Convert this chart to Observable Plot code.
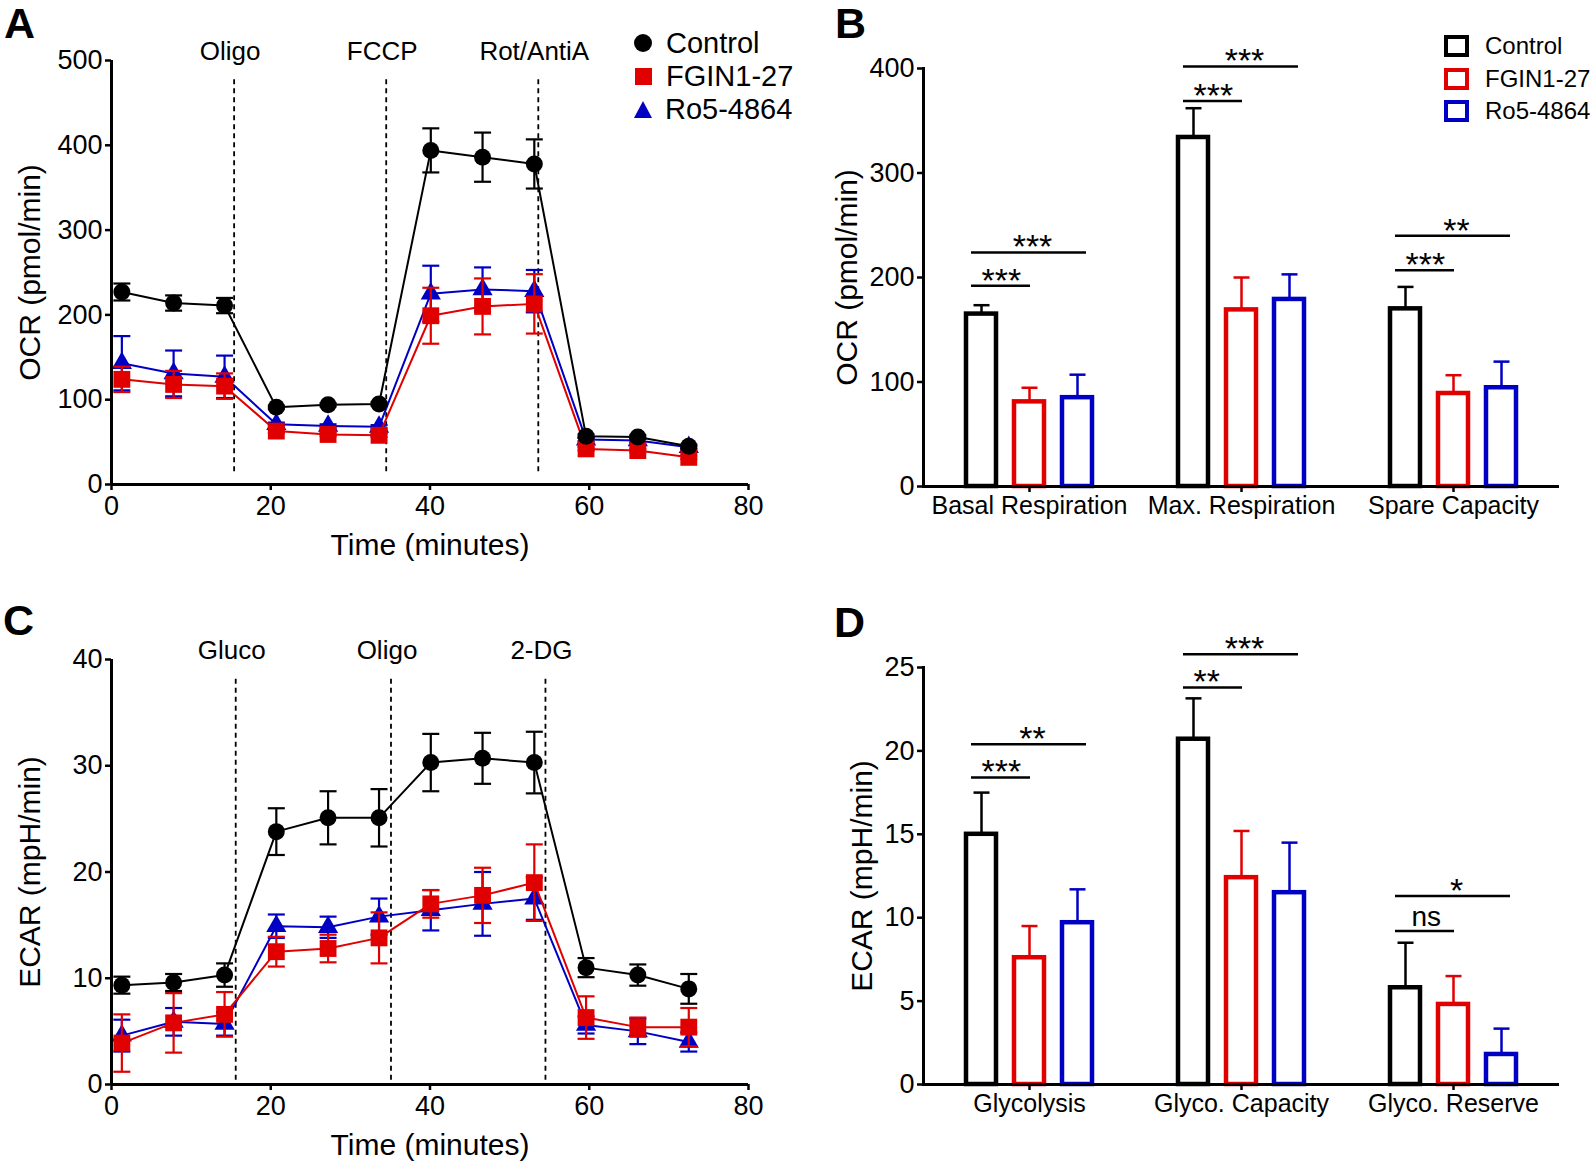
<!DOCTYPE html>
<html>
<head>
<meta charset="utf-8">
<script src="https://cdn.jsdelivr.net/npm/d3@7"></script>
<script src="https://cdn.jsdelivr.net/npm/@observablehq/plot@0.6"></script>
<style>
  body { margin: 0; background: #fff; font-family: "Liberation Sans", Arial, sans-serif; }
  #fig { position: relative; width: 1594px; height: 1165px; overflow: hidden; background: #fff; }
  .panel { position: absolute; }
  .letter { position: absolute; font-weight: bold; font-size: 43px; line-height: 1; color: #000; }
  .legend { position: absolute; color: #000; }
  .legend .row { position: absolute; left: 0; display: flex; align-items: center; white-space: nowrap; }
  svg g[aria-label="x-axis label"] text, svg g[aria-label="y-axis label"] text { font-size: 30px; }
</style>
</head>
<body>
<div id="fig">
  <div class="panel" id="pA" style="left:0px;top:0px"></div>
  <div class="panel" id="pB" style="left:800px;top:0px"></div>
  <div class="panel" id="pC" style="left:0px;top:590px"></div>
  <div class="panel" id="pD" style="left:800px;top:590px"></div>
  <div class="letter" style="left:4px;top:2px">A</div>
  <div class="letter" style="left:835px;top:2px">B</div>
  <div class="letter" style="left:3px;top:599px">C</div>
  <div class="letter" style="left:834px;top:601px">D</div>
  <div class="legend" id="legA" style="left:634px;top:26px;font-size:29px"></div>
  <div class="legend" id="legB" style="left:1444px;top:30px;font-size:24px"></div>
</div>
<script>
// ---------- shared ----------
const groups = ["Control", "FGIN1-27", "Ro5-4864"];
const groupColors = ["#000000", "#e00000", "#0000c4"];
const groupSymbols = ["circle", "square", "triangle"];

const measureTimes = [1.3, 7.8, 14.2, 20.7, 27.2, 33.6, 40.1, 46.6, 53.1, 59.6, 66.1, 72.5];
const timeTicks = [0, 20, 40, 60, 80];

// ---------- Panel A: OCR time course ----------
const ocrControl    = [227, 214, 211, 91, 94, 95, 394, 386, 378, 57, 56, 45];
const ocrControlErr = [10, 9, 9, 2, 2, 2, 26, 29, 29, 2, 2, 2];
const ocrFGIN       = [124, 118, 116, 63, 59, 58, 199, 210, 213, 42, 40, 32];
const ocrFGINErr    = [15, 16, 15, 2, 2, 2, 33, 33, 35, 2, 2, 2];
const ocrRo5        = [143, 131, 127, 71, 69, 68, 225, 230, 228, 53, 52, 44];
const ocrRo5Err     = [32, 27, 25, 2, 2, 2, 33, 26, 25, 2, 2, 2];
const ocrInjectTimes  = [15.4, 34.5, 53.6];
const ocrInjectLabels = ["Oligo", "FCCP", "Rot/AntiA"];
const ocrDashExtent   = [15, 482];
const ocrTicks = [0, 100, 200, 300, 400, 500];

// ---------- Panel B: OCR summary ----------
const ocrCats = ["Basal Respiration", "Max. Respiration", "Spare Capacity"];
const ocrBarControl    = [165, 334, 170];
const ocrBarControlErr = [8.5, 28, 21];
const ocrBarFGIN       = [81, 169, 89];
const ocrBarFGINErr    = [13.5, 31, 17.5];
const ocrBarRo5        = [85, 179, 94.5];
const ocrBarRo5Err     = [22, 24, 25];
const ocrBarTicks = [0, 100, 200, 300, 400];
const ocrBracketCat   = ["Basal Respiration", "Basal Respiration", "Max. Respiration", "Max. Respiration", "Spare Capacity", "Spare Capacity"];
const ocrBracketTo    = ["FGIN1-27", "Ro5-4864", "FGIN1-27", "Ro5-4864", "FGIN1-27", "Ro5-4864"];
const ocrBracketY     = [192, 224, 369, 402, 207, 240];
const ocrBracketLabel = ["***", "***", "***", "***", "***", "**"];

// ---------- Panel C: ECAR time course ----------
const ecarControl    = [9.35, 9.6, 10.3, 23.8, 25.1, 25.1, 30.3, 30.7, 30.3, 11.0, 10.3, 9.0];
const ecarControlErr = [0.8, 0.8, 1.1, 2.2, 2.5, 2.7, 2.7, 2.4, 2.9, 0.9, 1.0, 1.4];
const ecarFGIN       = [3.9, 5.8, 6.6, 12.5, 12.8, 13.8, 17.0, 17.8, 19.0, 6.3, 5.4, 5.4];
const ecarFGINErr    = [2.7, 2.8, 2.1, 1.4, 1.3, 2.4, 1.3, 2.6, 3.6, 2.0, 0.9, 1.8];
const ecarRo5        = [4.6, 5.9, 5.7, 14.9, 14.8, 15.8, 16.4, 17.0, 17.5, 5.6, 5.0, 4.0];
const ecarRo5Err     = [1.5, 1.3, 1.1, 1.1, 1.0, 1.7, 1.9, 3.0, 2.0, 0.8, 1.2, 0.9];
const ecarInjectTimes  = [15.6, 35.1, 54.5];
const ecarInjectLabels = ["Gluco", "Oligo", "2-DG"];
const ecarDashExtent   = [0.4, 38.4];
const ecarTicks = [0, 10, 20, 30, 40];

// ---------- Panel D: ECAR summary ----------
const ecarCats = ["Glycolysis", "Glyco. Capacity", "Glyco. Reserve"];
const ecarBarControl    = [15.0, 20.7, 5.8];
const ecarBarControlErr = [2.5, 2.45, 2.7];
const ecarBarFGIN       = [7.6, 12.4, 4.8];
const ecarBarFGINErr    = [1.9, 2.8, 1.7];
const ecarBarRo5        = [9.7, 11.5, 1.8];
const ecarBarRo5Err     = [2.0, 3.0, 1.55];
const ecarBarTicks = [0, 5, 10, 15, 20, 25];
const ecarBracketCat   = ["Glycolysis", "Glycolysis", "Glyco. Capacity", "Glyco. Capacity", "Glyco. Reserve", "Glyco. Reserve"];
const ecarBracketTo    = ["FGIN1-27", "Ro5-4864", "FGIN1-27", "Ro5-4864", "FGIN1-27", "Ro5-4864"];
const ecarBracketY     = [18.4, 20.4, 23.8, 25.8, 9.2, 11.3];
const ecarBracketLabel = ["***", "**", "**", "***", "ns", "*"];

// ---------- helpers ----------
const FONT = "Liberation Sans, Arial, Helvetica, sans-serif";
const capSymbol = {
  draw(ctx, size) {
    const r = Math.sqrt(size / Math.PI);
    ctx.moveTo(-r, 0);
    ctx.lineTo(r, 0);
  }
};
const markerR = [8.5, 9.5, 7.5];

function timePanel(cfg) {
  const rows = groups.flatMap((g, gi) => measureTimes.map((t, i) => ({
    group: g, time: t, value: cfg.values[gi][i], err: cfg.errs[gi][i]
  })));
  const marks = [
    Plot.ruleX(cfg.injTimes, {x: d => d, y1: cfg.dash[0], y2: cfg.dash[1], stroke: "#000", strokeWidth: 1.8, strokeDasharray: "5,4"}),
    Plot.text(cfg.injTimes, {x: d => d, text: (d, i) => cfg.injLabels[i], frameAnchor: "top", lineAnchor: "middle", dy: -9, dx: -4, fontSize: 26, fill: "#000"})
  ];
  for (const gi of [2, 1, 0]) {
    const data = rows.filter(r => r.group === groups[gi]);
    const c = groupColors[gi];
    marks.push(
      Plot.line(data, {x: "time", y: "value", stroke: c, strokeWidth: 2}),
      Plot.ruleX(data, {x: "time", y1: d => d.value - d.err, y2: d => d.value + d.err, stroke: c, strokeWidth: 2.2}),
      Plot.dot(data, {x: "time", y: d => d.value + d.err, symbol: capSymbol, r: 8.5, stroke: c, strokeWidth: 2.2, fill: "none"}),
      Plot.dot(data, {x: "time", y: d => d.value - d.err, symbol: capSymbol, r: 8.5, stroke: c, strokeWidth: 2.2, fill: "none"}),
      Plot.dot(data, {x: "time", y: "value", symbol: groupSymbols[gi], r: markerR[gi], fill: c})
    );
  }
  marks.push(
    Plot.ruleY([0], {stroke: "#000", strokeWidth: 3}),
    Plot.ruleX([0], {stroke: "#000", strokeWidth: 3}),
    Plot.axisX({ticks: timeTicks, tickSize: 6, tickPadding: 5, strokeWidth: 2.5, fontSize: 27,
      label: "Time (minutes)", labelAnchor: "center", labelOffset: 70, labelArrow: "none"}),
    Plot.axisY({ticks: cfg.yTicks, tickSize: 6, tickPadding: 3, strokeWidth: 2.5, fontSize: 27,
      label: cfg.yLabel, labelAnchor: "center", labelOffset: 93, labelArrow: "none"})
  );
  return Plot.plot({
    width: 800, height: cfg.height,
    marginLeft: 111, marginRight: 52, marginTop: cfg.marginTop, marginBottom: cfg.marginBottom,
    x: {domain: [0, 80]},
    y: {domain: cfg.yDomain},
    style: {fontFamily: FONT, fontSize: "27px", color: "#000", background: "transparent", overflow: "visible"},
    marks
  });
}

function barPanel(cfg) {
  const rows = cfg.cats.flatMap((c, ci) => groups.map((g, gi) => ({
    cat: c, group: g, value: cfg.values[gi][ci], err: cfg.errs[gi][ci]
  })));
  const brackets = cfg.bCat.map((c, i) => ({cat: c, from: groups[0], mid: groups[1], to: cfg.bTo[i], y: cfg.bY[i], label: cfg.bLabel[i]}));
  const shortB = brackets.filter(b => b.to === groups[1]);
  const longB = brackets.filter(b => b.to === groups[2]);
  const starText = (arr, opts) => Plot.text(arr.filter(b => b.label !== "ns"), {fx: "cat", y: "y", text: "label", fontSize: 34, dy: -5, ...opts});
  const nsText = (arr, opts) => Plot.text(arr.filter(b => b.label === "ns"), {fx: "cat", y: "y", text: "label", fontSize: 28, dy: -14, ...opts});
  const marks = [
    Plot.ruleX(rows, {fx: "cat", x: "group", y1: "value", y2: d => d.value + d.err, stroke: "group", strokeWidth: 2.5}),
    Plot.dot(rows, {fx: "cat", x: "group", y: d => d.value + d.err, symbol: capSymbol, r: 8, stroke: "group", strokeWidth: 2.5, fill: "none"}),
    Plot.barY(rows, {fx: "cat", x: "group", y: "value", fill: "white", stroke: "group", strokeWidth: 4.5}),
    Plot.ruleY(shortB, {fx: "cat", x1: "from", x2: "to", y: "y", stroke: "#000", strokeWidth: 2.5, insetLeft: 5, insetRight: 14}),
    Plot.ruleY(longB, {fx: "cat", x1: "from", x2: "to", y: "y", stroke: "#000", strokeWidth: 2.5, insetLeft: 5, insetRight: 6}),
    starText(shortB, {x: "from", textAnchor: "start"}),
    nsText(shortB, {x: "from", textAnchor: "start", dx: 6}),
    starText(longB, {x: "mid", textAnchor: "middle", dx: 3}),
    Plot.ruleY([0], {stroke: "#000", strokeWidth: 3}),
    Plot.frame({anchor: "left", facetAnchor: "left", stroke: "#000", strokeWidth: 3}),
    Plot.axisY({ticks: cfg.yTicks, tickSize: 6, tickPadding: 3, strokeWidth: 2.5, fontSize: 27,
      label: cfg.yLabel, labelAnchor: "center", labelOffset: cfg.labelOffset, labelArrow: "none"}),
    Plot.axisFx({anchor: "bottom", tickSize: 6, tickPadding: 4, strokeWidth: 2.5, fontSize: 25, label: null})
  ];
  return Plot.plot({
    width: 794, height: cfg.height,
    marginLeft: 122, marginRight: 35, marginTop: cfg.marginTop, marginBottom: cfg.marginBottom,
    fx: {domain: cfg.cats, padding: 0},
    x: {domain: groups, paddingInner: 0.38, paddingOuter: 0.857, axis: null},
    y: {domain: cfg.yDomain},
    color: {domain: groups, range: groupColors},
    style: {fontFamily: FONT, fontSize: "27px", color: "#000", background: "transparent", overflow: "visible"},
    marks
  });
}

document.getElementById("pA").append(timePanel({
  values: [ocrControl, ocrFGIN, ocrRo5], errs: [ocrControlErr, ocrFGINErr, ocrRo5Err],
  injTimes: ocrInjectTimes, injLabels: ocrInjectLabels, dash: ocrDashExtent,
  yDomain: [0, 500], yTicks: ocrTicks, yLabel: "OCR (pmol/min)",
  height: 580, marginTop: 60, marginBottom: 96
}));

document.getElementById("pC").append(timePanel({
  values: [ecarControl, ecarFGIN, ecarRo5], errs: [ecarControlErr, ecarFGINErr, ecarRo5Err],
  injTimes: ecarInjectTimes, injLabels: ecarInjectLabels, dash: ecarDashExtent,
  yDomain: [0, 40], yTicks: ecarTicks, yLabel: "ECAR (mpH/min)",
  height: 575, marginTop: 69, marginBottom: 81
}));

document.getElementById("pB").append(barPanel({
  cats: ocrCats,
  values: [ocrBarControl, ocrBarFGIN, ocrBarRo5], errs: [ocrBarControlErr, ocrBarFGINErr, ocrBarRo5Err],
  bCat: ocrBracketCat, bTo: ocrBracketTo, bY: ocrBracketY, bLabel: ocrBracketLabel,
  yDomain: [0, 400], yTicks: ocrBarTicks, yLabel: "OCR (pmol/min)", labelOffset: 88,
  height: 580, marginTop: 68, marginBottom: 94
}));

document.getElementById("pD").append(barPanel({
  cats: ecarCats,
  values: [ecarBarControl, ecarBarFGIN, ecarBarRo5], errs: [ecarBarControlErr, ecarBarFGINErr, ecarBarRo5Err],
  bCat: ecarBracketCat, bTo: ecarBracketTo, bY: ecarBracketY, bLabel: ecarBracketLabel,
  yDomain: [0, 25], yTicks: ecarBarTicks, yLabel: "ECAR (mpH/min)", labelOffset: 73,
  height: 575, marginTop: 77, marginBottom: 81
}));

// ---------- legends ----------
function markerSwatch(gi) {
  const el = document.createElement("span");
  el.style.display = "inline-block";
  const c = groupColors[gi];
  if (gi === 0) { el.style.width = "18px"; el.style.height = "18px"; el.style.borderRadius = "50%"; el.style.background = c; el.style.margin = "0 14px 0 0"; }
  else if (gi === 1) { el.style.width = "17px"; el.style.height = "17px"; el.style.background = c; el.style.margin = "0 14px 0 1px"; }
  else { el.style.width = "0"; el.style.height = "0"; el.style.borderLeft = "9.5px solid transparent"; el.style.borderRight = "9.5px solid transparent"; el.style.borderBottom = "17px solid " + c; el.style.margin = "0 13px 0 0"; }
  return el;
}
function boxSwatch(gi) {
  const el = document.createElement("span");
  el.style.display = "inline-block";
  el.style.boxSizing = "border-box";
  el.style.width = "25px"; el.style.height = "22px";
  el.style.border = "4.5px solid " + groupColors[gi];
  el.style.marginRight = "16px";
  return el;
}
const legA = document.getElementById("legA");
groups.forEach((g, gi) => {
  const row = document.createElement("div");
  row.className = "row";
  row.style.top = (gi * 33) + "px";
  row.style.height = "34px";
  row.append(markerSwatch(gi), document.createTextNode(g));
  legA.append(row);
});
const legB = document.getElementById("legB");
groups.forEach((g, gi) => {
  const row = document.createElement("div");
  row.className = "row";
  row.style.top = (gi * 32.5) + "px";
  row.style.height = "32px";
  row.append(boxSwatch(gi), document.createTextNode(g));
  legB.append(row);
});
</script>
</body>
</html>
